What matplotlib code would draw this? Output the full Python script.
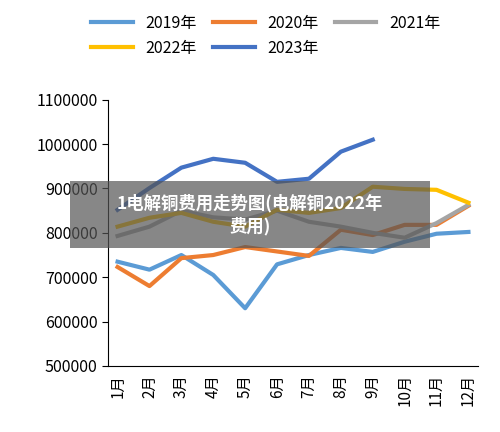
import matplotlib
matplotlib.use("Agg")
import matplotlib.pyplot as plt
import matplotlib.ticker as ticker
from matplotlib.patches import Rectangle

plt.rcParams["font.family"] = ["Noto Sans CJK SC", "DejaVu Sans"]

months = ["1月", "2月", "3月", "4月", "5月", "6月", "7月", "8月", "9月", "10月", "11月", "12月"]
y2019 = [735000, 717000, 750000, 705000, 630000, 729000, 750000, 766000, 757000, 780000, 798000, 802000]
y2020 = [723000, 680000, 743000, 750000, 768000, 758000, 748000, 807000, 795000, 818000, 818000, 861000]
y2021 = [793000, 814000, 850000, 835000, 830000, 850000, 825000, 814000, 800000, 789000, 822000, 863000]
y2022 = [814000, 834000, 845000, 825000, 814000, 852000, 845000, 856000, 904000, 899000, 897000, 868000]
y2023 = [852000, 901000, 947000, 967000, 958000, 915000, 922000, 983000, 1010000]

series = [("2019年", y2019, "#5B9BD5"), ("2020年", y2020, "#ED7D31"),
          ("2021年", y2021, "#A5A5A5"), ("2022年", y2022, "#FFC000"),
          ("2023年", y2023, "#4472C4")]

fig = plt.figure(figsize=(5, 4.32), dpi=100)
ax = fig.add_axes([0.216, 0.153, 0.74, 0.616])

lines = {}
for name, vals, color in series:
    lines[name], = ax.plot(range(len(vals)), vals, color=color, lw=3, label=name)

ax.set_ylim(500000, 1100000)
ax.set_yticks(range(500000, 1100001, 100000))
ax.yaxis.set_major_formatter(ticker.FuncFormatter(lambda v, p: f"{int(v)}"))
ax.set_xlim(-0.3, 11.3)
ax.set_xticks(range(12))
ax.set_xticklabels(months, rotation=90, fontsize=11)
ax.tick_params(axis="y", labelsize=11.5, direction="out", length=4)
ax.tick_params(axis="x", length=0, pad=6)
for s in ("top", "right"):
    ax.spines[s].set_visible(False)

# column-major fill so rows read 2019/2020/2021 then 2022/2023
order = ["2019年", "2022年", "2020年", "2023年", "2021年"]
fig.legend([lines[k] for k in order], order, loc="upper left", bbox_to_anchor=(0.17, 0.98),
           ncol=3, frameon=False, fontsize=11.5, handlelength=2.6, columnspacing=1.0,
           borderaxespad=0)

fig.patches.append(Rectangle((0.14, 0.425), 0.72, 0.155, transform=fig.transFigure,
                             fc="#555555", ec="none", alpha=0.7))
fig.text(0.5, 0.503, "1电解铜费用走势图(电解铜2022年\n费用)", ha="center", va="center",
         fontsize=12.5, color="white", fontweight="bold", linespacing=1.3)

fig.savefig("out.png", dpi=100)
